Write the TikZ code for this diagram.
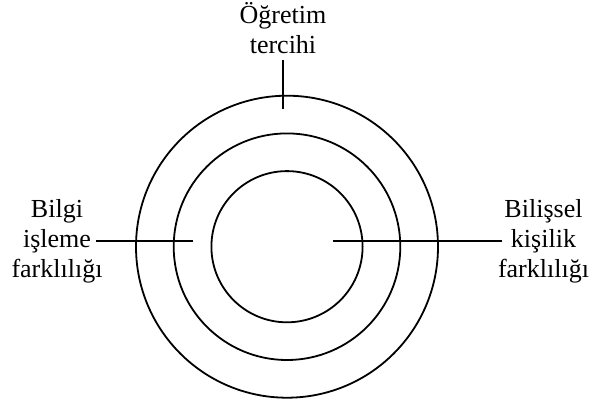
\documentclass[tikz,border=0pt]{standalone}
\usepackage{fontspec}
\setmainfont{Liberation Serif}
\begin{document}
\begin{tikzpicture}[x=1pt,y=-1pt,
  ring/.style={draw, line width=1.8pt},
  lead/.style={draw, line width=1.8pt},
  lbl/.style={align=center, font=\fontsize{26}{30}\selectfont, inner sep=0pt, anchor=base}]
\useasboundingbox (0,0) rectangle (590,405);
\coordinate (c) at (287,246.7);
\draw[ring] (c) circle[radius=151pt];
\draw[ring] (c) circle[radius=113.3pt];
\draw[ring] (c) circle[radius=75.6pt];
\node[lbl] (top) at (283,53) {Öğretim\\tercihi};
\node[lbl] (left) at (57,277) {Bilgi\\işleme\\farklılığı};
\node[lbl] (right) at (543.5,277) {Bilişsel\\kişilik\\farklılığı};
\coordinate (t1) at (283,60);
\coordinate (t2) at (283,109);
\coordinate (l1) at (96,241);
\coordinate (l2) at (193,241);
\coordinate (r1) at (333,241);
\coordinate (r2) at (502,241);
\draw[lead] (t1) -- (t2);
\draw[lead] (l1) -- (l2);
\draw[lead] (r1) -- (r2);
\end{tikzpicture}
\end{document}
